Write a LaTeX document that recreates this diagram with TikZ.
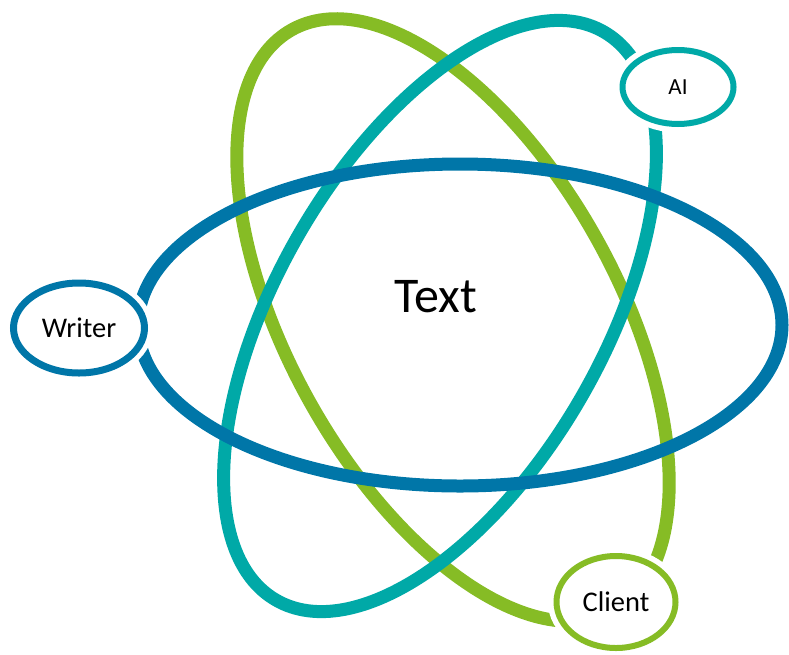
\documentclass[tikz,border=0pt]{standalone}
\usepackage{fontspec}
\setmainfont{Carlito}
\usetikzlibrary{shapes.geometric}
\definecolor{orbitblue}{RGB}{0,118,168}
\definecolor{orbitteal}{RGB}{0,169,167}
\definecolor{orbitgreen}{RGB}{134,188,37}
\begin{document}
\begin{tikzpicture}[x=1pt,y=-1pt,
  orbit/.style={line width=13pt},
  tag/.style={ellipse, draw, fill=white, inner sep=0pt, line width=6.5pt, text=black,
    preaction={draw=white, line width=17pt}},
]
\useasboundingbox (0,0) rectangle (789,654);

% centres of the three orbits
\coordinate (gc) at (453,320);
\coordinate (tc) at (440,316);
\coordinate (bc) at (460,325);

% orbits: green below teal, blue on top
\draw[orbit, orbitgreen, rotate around={-61:(gc)}] (gc) ellipse [x radius=332, y radius=165];
\draw[orbit, orbitteal, rotate around={60:(tc)}] (tc) ellipse [x radius=328, y radius=163];
\draw[orbit, orbitblue] (bc) ellipse [x radius=322, y radius=161];

% centre label
\node[font=\fontsize{50}{60}\selectfont] (title) at (436,297) {Text};

% the three actors sitting on the orbits
\node[tag, draw=orbitblue, line width=7pt, minimum width=131pt, minimum height=90pt,
  font=\fontsize{28.5}{34}\selectfont] (writer) at (79,328) {Writer};
\node[tag, draw=orbitteal, line width=6pt, minimum width=111pt, minimum height=74pt,
  font=\fontsize{23}{28}\selectfont] (ai) at (678,87) {AI};
\node[tag, draw=orbitgreen, line width=6pt, minimum width=119pt, minimum height=92pt,
  font=\fontsize{28.5}{34}\selectfont] (client) at (616,602) {Client};
\end{tikzpicture}
\end{document}
